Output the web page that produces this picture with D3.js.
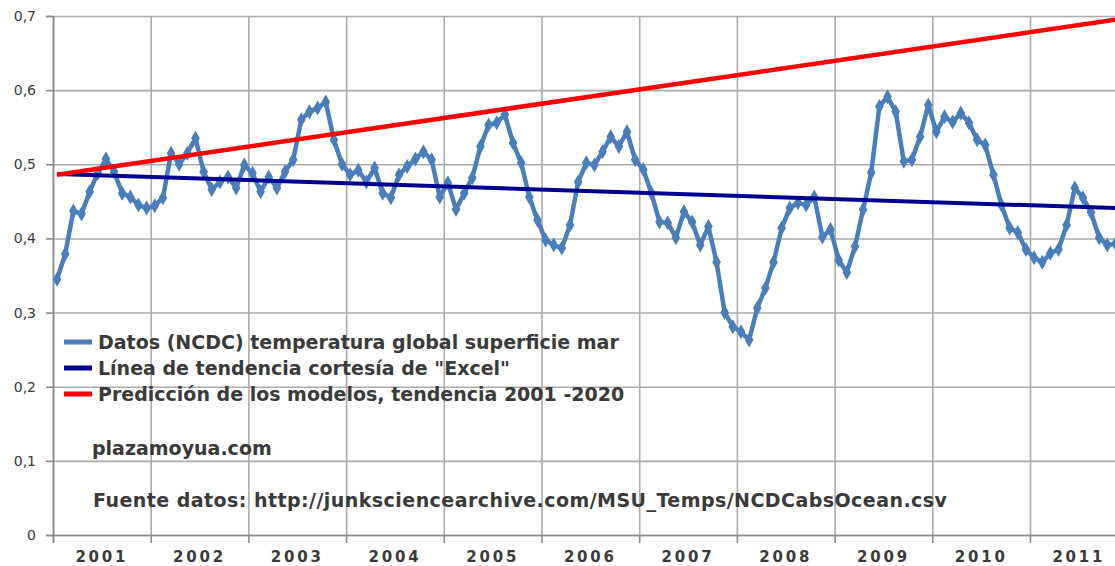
<!DOCTYPE html>
<html>
<head>
<meta charset="utf-8">
<script src="https://cdn.jsdelivr.net/npm/d3@7"></script>
<style>
  body { margin: 0; background: #fff; }
  svg { display: block; }
  text { font-family: "DejaVu Sans", Verdana, sans-serif; fill: #3a3a3a; }
</style>
</head>
<body>
<div id="chart"></div>
<script>
// Monthly values, Jan 2001 .. Nov 2011
var temps2001 = [0.345, 0.379, 0.437, 0.433, 0.463, 0.488, 0.507, 0.490, 0.461, 0.456, 0.445, 0.441];
var temps2002 = [0.444, 0.455, 0.515, 0.500, 0.515, 0.535, 0.490, 0.466, 0.476, 0.483, 0.468, 0.499];
var temps2003 = [0.488, 0.463, 0.483, 0.468, 0.490, 0.506, 0.560, 0.571, 0.576, 0.584, 0.533, 0.500];
var temps2004 = [0.486, 0.492, 0.476, 0.495, 0.461, 0.455, 0.486, 0.497, 0.507, 0.517, 0.506, 0.456];
var temps2005 = [0.475, 0.439, 0.461, 0.482, 0.524, 0.553, 0.556, 0.567, 0.529, 0.502, 0.456, 0.425];
var temps2006 = [0.398, 0.391, 0.387, 0.418, 0.476, 0.502, 0.499, 0.517, 0.537, 0.524, 0.544, 0.506];
var temps2007 = [0.493, 0.461, 0.422, 0.421, 0.401, 0.436, 0.422, 0.391, 0.416, 0.368, 0.300, 0.281];
var temps2008 = [0.274, 0.263, 0.306, 0.333, 0.368, 0.414, 0.441, 0.448, 0.445, 0.456, 0.402, 0.412];
var temps2009 = [0.371, 0.354, 0.389, 0.439, 0.489, 0.578, 0.591, 0.571, 0.504, 0.506, 0.537, 0.580];
var temps2010 = [0.544, 0.564, 0.557, 0.569, 0.556, 0.533, 0.526, 0.486, 0.445, 0.414, 0.408, 0.385];
var temps2011 = [0.374, 0.368, 0.380, 0.385, 0.418, 0.468, 0.455, 0.435, 0.401, 0.391, 0.393];

var years = ["2001", "2002", "2003", "2004", "2005", "2006", "2007", "2008", "2009", "2010", "2011"];
var yTicks = [0, 0.1, 0.2, 0.3, 0.4, 0.5, 0.6, 0.7];

// trend lines: [month index, value] at both ends
var excelTrend = [[0, 0.487], [130, 0.441]];
var modelTrend = [[0, 0.486], [130, 0.695]];

var legendLabels = [
  "Datos (NCDC) temperatura global superficie mar",
  "L\u00ednea de tendencia cortes\u00eda de \"Excel\"",
  "Predicci\u00f3n de los modelos, tendencia 2001 -2020"
];
var colors = ["#4a7ebb", "#000090", "#ff0000"];

var temps = [].concat(temps2001, temps2002, temps2003, temps2004, temps2005, temps2006,
  temps2007, temps2008, temps2009, temps2010, temps2011);

// Set up SVG
var svgWidth = 1115;
var svgHeight = 566;
var plotLeft = 53, plotTop = 16, plotBottom = 535;
var yearWidth = 97.7;

var svg = d3.select("#chart")
    .append("svg")
    .attr("width", svgWidth)
    .attr("height", svgHeight);

// scales
var xMonth = d3.scaleLinear()
    .domain([0, 12 * years.length])
    .range([plotLeft, plotLeft + yearWidth * years.length]);

var xYear = d3.scaleBand()
    .domain(years)
    .range([plotLeft, plotLeft + yearWidth * years.length]);

var y = d3.scaleLinear()
    .domain([0, 0.7])
    .range([plotBottom, plotTop]);

// horizontal grid
svg.append("g")
    .attr("transform", `translate(${plotLeft},0)`)
    .call(d3.axisLeft(y).tickValues(yTicks).tickSize(-(svgWidth - plotLeft + 20)).tickFormat(""))
    .call(g => g.select(".domain").remove())
    .selectAll("line").attr("stroke", "#ababab").attr("stroke-width", 1.6);

// vertical grid at year boundaries
var boundaries = d3.range(0, years.length + 1).map(k => k * 12);
svg.append("g")
    .attr("transform", `translate(0,${plotBottom})`)
    .call(d3.axisBottom(xMonth).tickValues(boundaries).tickSize(-(plotBottom - plotTop)).tickFormat(""))
    .call(g => g.select(".domain").remove())
    .selectAll("line").attr("stroke", "#ababab").attr("stroke-width", 1.6);

// bottom axis (ticks below, labels centred in each year)
svg.append("g")
    .attr("transform", `translate(0,${plotBottom})`)
    .call(d3.axisBottom(xMonth).tickValues(boundaries).tickSize(8).tickFormat(""))
    .call(g => g.select(".domain").attr("stroke", "#8c8c8c").attr("stroke-width", 1.6))
    .selectAll("line").attr("stroke", "#8c8c8c").attr("stroke-width", 1.6);

svg.append("g")
    .attr("transform", `translate(0,${plotBottom})`)
    .call(d3.axisBottom(xYear).tickSize(0).tickPadding(16))
    .call(g => g.select(".domain").remove())
    .selectAll("text")
    .style("font-size", "15px")
    .style("font-weight", "bold")
    .style("letter-spacing", "2.8px")
    .attr("fill", "#3a3a3a");

// left axis
svg.append("g")
    .attr("transform", `translate(${plotLeft},0)`)
    .call(d3.axisLeft(y).tickValues(yTicks).tickSize(7).tickPadding(10)
      .tickFormat(d => d === 0 ? "0" : d3.format(".1f")(d).replace(".", ",")))
    .call(g => g.select(".domain").attr("stroke", "#8c8c8c").attr("stroke-width", 1.6))
    .call(g => g.selectAll("line").attr("stroke", "#8c8c8c").attr("stroke-width", 1.6))
    .selectAll("text")
    .style("font-size", "14px")
    .attr("fill", "#3a3a3a");

// data line with diamond markers
var line = d3.line()
    .x((d, i) => xMonth(i + 0.5))
    .y(d => y(d));

svg.append("path")
    .datum(temps)
    .attr("fill", "none")
    .attr("stroke", colors[0])
    .attr("stroke-width", 4.5)
    .attr("stroke-linejoin", "round")
    .attr("d", line);

svg.append("g")
    .selectAll("path")
    .data(temps)
    .enter()
    .append("path")
    .attr("d", d3.symbol().type(d3.symbolDiamond).size(65))
    .attr("transform", (d, i) => `translate(${xMonth(i + 0.5)},${y(d)})`)
    .attr("fill", colors[0]);

// trend lines
var trendLine = d3.line()
    .x(d => xMonth(d[0] + 0.5))
    .y(d => y(d[1]));

svg.append("path")
    .datum(excelTrend)
    .attr("fill", "none")
    .attr("stroke", colors[1])
    .attr("stroke-width", 4)
    .attr("d", trendLine);

svg.append("path")
    .datum(modelTrend)
    .attr("fill", "none")
    .attr("stroke", colors[2])
    .attr("stroke-width", 4.5)
    .attr("d", trendLine);

// legend
var legend = svg.append("g");
legendLabels.forEach(function(label, i) {
  var ly = 342 + i * 26;
  legend.append("line")
    .attr("x1", 64).attr("x2", 92)
    .attr("y1", ly).attr("y2", ly)
    .attr("stroke", colors[i])
    .attr("stroke-width", 5);
  legend.append("text")
    .attr("x", 98)
    .attr("y", ly + 7)
    .style("font-size", "19px")
    .style("font-weight", "bold")
    .text(label);
});

svg.append("text")
    .attr("x", 92)
    .attr("y", 455)
    .style("font-size", "19px")
    .style("font-weight", "bold")
    .text("plazamoyua.com");

svg.append("text")
    .attr("x", 93)
    .attr("y", 507)
    .style("font-size", "19px")
    .style("font-weight", "bold")
    .style("letter-spacing", "0.45px")
    .text("Fuente datos: http://junksciencearchive.com/MSU_Temps/NCDCabsOcean.csv");
</script>
</body>
</html>
